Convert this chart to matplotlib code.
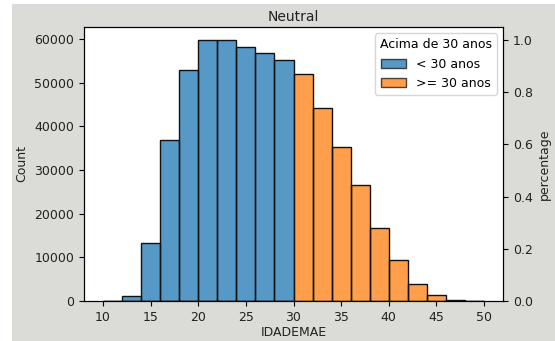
import matplotlib
matplotlib.use("Agg")
import matplotlib.pyplot as plt
from matplotlib.patches import Rectangle, Patch
import numpy as np

bin_edges = [10, 12, 14, 16, 18, 20, 22, 24, 26, 28, 30, 32, 34, 36, 38, 40, 42, 44, 46, 48, 50]
under30 = [20, 1100, 13200, 37000, 52900, 59800, 59800, 58300, 56900, 55200,
           0, 0, 0, 0, 0, 0, 0, 0, 0, 0]
over30 = [0, 0, 0, 0, 0, 0, 0, 0, 0, 0,
          52000, 44300, 35200, 26500, 16700, 9400, 4000, 1400, 300, 30]
hue_labels = ["< 30 anos", ">= 30 anos"]
legend_title = "Acima de 30 anos"
title = "Neutral"
xticks = [10, 15, 20, 25, 30, 35, 40, 45, 50]

plt.rcParams["font.size"] = 9

bg = "#dbdbd7"
blue = "#1f77b4"
orange = "#ff7f0e"
txt = "#222222"

fig = plt.figure(figsize=(5.55, 3.41), dpi=100, facecolor="white")
fig.patches.append(Rectangle((12 / 555, 0), 1 - 12 / 555, 1 - 4 / 341,
                             transform=fig.transFigure, facecolor=bg,
                             edgecolor="none", zorder=-10))

ax = fig.add_axes([84 / 555, 1 - 301 / 341, (503 - 84) / 555, (301 - 27) / 341])
left = np.array(bin_edges[:-1])
width = np.diff(bin_edges)
ax.bar(left, under30, width=width, align="edge", color=blue, alpha=0.75,
       edgecolor="none")
ax.bar(left, under30, width=width, align="edge", fill=False, edgecolor="#111111",
       linewidth=1.0)
ax.bar(left, over30, width=width, align="edge", color=orange, alpha=0.75,
       edgecolor="none")
ax.bar(left, over30, width=width, align="edge", fill=False, edgecolor="#111111",
       linewidth=1.0)
ax.set_xlim(8, 52)
ax.set_ylim(0, 62800)
ax.set_xticks(xticks)
ax.set_yticks([0, 10000, 20000, 30000, 40000, 50000, 60000])
ax.set_xlabel("IDADEMAE", labelpad=2, color=txt)
ax.set_ylabel("Count", color=txt)
ax.set_title(title, pad=4, fontsize=10, color=txt)
ax.tick_params(labelsize=9, labelcolor=txt)

handles = [Patch(facecolor=blue, alpha=0.75, edgecolor="#111111"),
           Patch(facecolor=orange, alpha=0.75, edgecolor="#111111")]
leg = ax.legend(handles, hue_labels, title=legend_title, loc="upper right",
                fontsize=9, title_fontsize=9)

ax2 = ax.twinx()
ax2.set_ylim(0, 1.05)
ax2.set_yticks([0.0, 0.2, 0.4, 0.6, 0.8, 1.0])
ax2.set_ylabel("percentage", color=txt)
ax2.tick_params(labelsize=9, labelcolor=txt)

fig.savefig("out.png", dpi=100, facecolor=fig.get_facecolor())
